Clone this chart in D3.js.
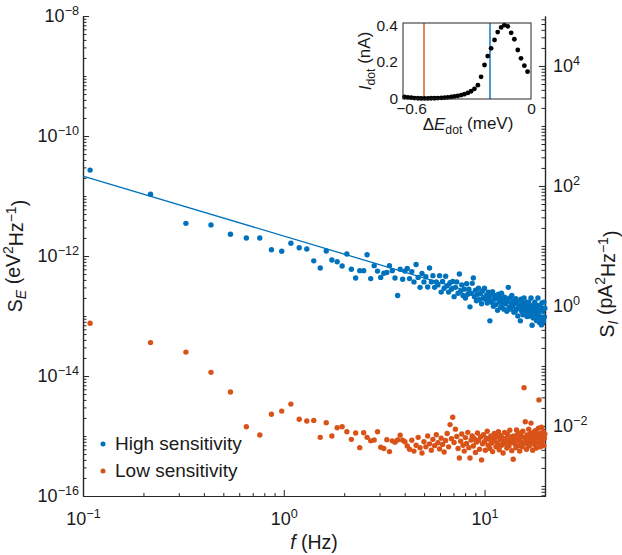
<!DOCTYPE html>
<html><head><meta charset="utf-8">
<script src="https://cdn.jsdelivr.net/npm/d3@7"></script>
<style>
body{margin:0;background:#fff}
text{font-family:"Liberation Sans",Arial,Helvetica,sans-serif;fill:#1a1a1a}
</style></head>
<body><svg id="c" width="622" height="555"></svg>
<script>
// ---- data ----
const freqHz = [0.1085,0.217,0.3255,0.434,0.5425,0.651,0.7595,0.868,0.9765,1.085,
1.1935,1.302,1.4105,1.519,1.6275,1.736,1.8445,1.953,2.0615,2.17,
2.28,2.39,2.50,2.60,2.71,2.82,2.93,3.04,3.15,3.26,3.36,3.47,3.58,3.69,3.80,3.91,4.01,4.12,4.23,4.34,
4.45,4.56,4.67,4.77,4.88,4.99,5.10,5.21,5.32,5.43,5.53,5.64,5.75,5.86,5.97,6.08,6.18,6.29,6.40,6.51,
6.62,6.73,6.84,6.94,7.05,7.16,7.27,7.38,7.49,7.60,7.70,7.81,7.92,8.03,8.14,8.25,8.35,8.46,8.57,8.68,
8.79,8.90,9.01,9.11,9.22,9.33,9.44,9.55,9.66,9.77,9.87,9.98,10.09,10.20,10.31,10.42,10.52,10.63,10.74,10.85,
10.96,11.07,11.18,11.28,11.39,11.50,11.61,11.72,11.83,11.94,12.04,12.15,12.26,12.37,12.48,12.59,12.69,12.80,12.91,13.02,
13.13,13.24,13.35,13.45,13.56,13.67,13.78,13.89,14.00,14.11,14.21,14.32,14.43,14.54,14.65,14.76,14.86,14.97,15.08,15.19,
15.30,15.41,15.52,15.62,15.73,15.84,15.95,16.06,16.17,16.28,16.38,16.49,16.60,16.71,16.82,16.93,17.03,17.14,17.25,17.36,
17.47,17.58,17.69,17.79,17.90,18.01,18.12,18.23,18.34,18.45,18.55,18.66,18.77,18.88,18.99,19.10,19.20,19.31,19.42,19.53,
19.64,19.75,19.86,19.96];

const highSE = [2.7e-11,1.07e-11,3.5e-12,3.3e-12,2.3e-12,2.0e-12,2.0e-12,1.27e-12,1.2e-12,1.63e-12,
1.37e-12,1.31e-12,8.3e-13,6.3e-13,1.21e-12,8.6e-13,8.0e-13,6.8e-13,1.08e-12,6.0e-13,
4.3e-13,5.7e-13,5.7e-13,1.05e-12,4.2e-13,6.9e-13,5.6e-13,4.4e-13,5.15e-13,5.3e-13,
6.9e-13,5.7e-13,4.3e-13,2.2e-13,6.0e-13,4.1e-13,5.6e-13,6.2e-13,4.2e-13,5.5e-13,
3.7e-13,7.2e-13,4.4e-13,3.0e-13,5.1e-13,3.7e-13,4.5e-13,3.05e-13,6.3e-13,3.7e-13,
4.7e-13,3.0e-13,3.7e-13,3.3e-13,4.7e-13,2.5e-13,3.75e-13,2.9e-13,4.6e-13,3.2e-13,
2.5e-13,3.6e-13,2.8e-13,3.75e-13,2.1e-13,3.0e-13,3.7e-13,2.4e-13,5.0e-13,2.6e-13,
3.3e-13,2.2e-13,2.8e-13,2.0e-13,3.45e-13,2.3e-13,2.8e-13,1.42e-13,2.4e-13,3.5e-13,
4.3e-13,2.1e-13,2.7e-13,1.8e-13,2.3e-13,2.9e-13,1.9e-13,2.4e-13,1.6e-13,2.6e-13,
2.0e-13,2.9e-13,1.9e-13,2.2e-13,1.65e-13,2.5e-13,1.95e-13,8.3e-14,2.25e-13,1.7e-13,
2.55e-13,1.45e-13,1.9e-13,2.2e-13,1.55e-13,2.0e-13,1.25e-13,2.3e-13,1.7e-13,2.0e-13,
1.4e-13,2.4e-13,1.55e-13,1.8e-13,1.3e-13,2.05e-13,1.6e-13,1.9e-13,1.2e-13,1.8e-13,
3.0e-13,1.4e-13,2.0e-13,1.3e-13,1.6e-13,2.2e-13,1.45e-13,1.8e-13,1.15e-13,1.6e-13,
1.2e-13,1.95e-13,1.3e-13,1.65e-13,1.0e-13,1.75e-13,1.4e-13,1.55e-13,8.3e-14,1.9e-13,
1.2e-13,1.65e-13,1.05e-13,1.35e-13,2.0e-13,1.1e-13,1.5e-13,1.25e-13,1.7e-13,9.8e-14,
1.35e-13,1.15e-13,1.7e-13,1.0e-13,1.5e-13,1.2e-13,2.0e-13,1.1e-13,7.0e-14,1.35e-13,
9.3e-14,1.5e-13,1.2e-13,1.7e-13,1.05e-13,1.35e-13,8.4e-14,1.5e-13,1.1e-13,2.0e-13,
9.5e-14,1.2e-13,7.8e-14,1.5e-13,9.7e-14,1.3e-13,7.1e-14,1.65e-13,8.8e-14,1.25e-13,
8.1e-14,1.7e-13,9.6e-14,1.35e-13];

const lowSE = [7.55e-14,3.6e-14,2.5e-14,1.15e-14,5.4e-15,1.43e-15,1.04e-15,2.3e-15,2.6e-15,3.4e-15,
1.9e-15,1.78e-15,1.82e-15,9.5e-16,1.67e-15,1.0e-15,1.37e-15,1.43e-15,1.18e-15,8.8e-16,
1.12e-15,6.4e-16,1.13e-15,9.5e-16,8.3e-16,8.6e-16,1.18e-15,6.5e-16,6.2e-16,8.7e-16,
5.5e-16,8.3e-16,7.9e-16,8.6e-16,1.03e-15,8.5e-16,8.0e-16,6.8e-16,6.0e-16,8.5e-16,
5.6e-16,7.0e-16,9.5e-16,6.4e-16,5.2e-16,8.0e-16,6.6e-16,1.0e-15,7.4e-16,5.8e-16,
8.8e-16,6.9e-16,1.05e-15,7.7e-16,6.1e-16,9.2e-16,7.2e-16,5.4e-16,8.4e-16,1.1e-15,
6.6e-16,1.55e-15,9.0e-16,2.05e-15,7.8e-16,1.3e-15,9.8e-16,6.2e-16,4.3e-16,8.2e-16,
1.08e-15,7.0e-16,5.6e-16,9.4e-16,7.5e-16,1.15e-15,6.4e-16,4.3e-16,8.6e-16,1.0e-15,
6.8e-16,9.0e-16,5.3e-16,7.9e-16,1.12e-15,8.4e-16,6.0e-16,9.6e-16,4.0e-16,7.4e-16,
1.05e-15,8.0e-16,5.8e-16,9.2e-16,1.2e-15,7.0e-16,8.8e-16,6.2e-16,1.0e-15,7.6e-16,
5.5e-16,9.0e-16,1.1e-15,8.2e-16,6.6e-16,9.8e-16,7.2e-16,1.18e-15,5.9e-16,8.6e-16,
1.02e-15,7.0e-16,9.4e-16,5.2e-16,8.0e-16,1.15e-15,7.4e-16,9.0e-16,6.3e-16,1.06e-15,
8.3e-16,6.8e-16,1.25e-15,7.8e-16,9.6e-16,5.7e-16,8.8e-16,4.1e-16,1.0e-15,7.5e-16,
9.2e-16,6.4e-16,1.26e-15,8.5e-16,1.08e-15,6.9e-16,9.0e-16,5.6e-16,1.12e-15,8.0e-16,
9.8e-16,6.6e-16,1.2e-15,7.6e-16,6.4e-15,9.4e-16,1.73e-15,8.2e-16,6.0e-16,1.04e-15,
7.3e-16,9.0e-16,1.3e-15,6.8e-16,8.6e-16,1.1e-15,1.64e-15,7.9e-16,9.6e-16,5.8e-16,
1.15e-15,8.4e-16,1.0e-15,7.1e-16,1.22e-15,8.8e-16,6.3e-16,1.05e-15,7.7e-16,9.3e-16,
1.35e-15,4.0e-15,8.1e-16,1.1e-15,6.6e-16,9.7e-16,1.4e-15,7.4e-16,1.02e-15,8.6e-16,
1.18e-15,6.9e-16,9.2e-16,1.08e-15];

const fitF = [0.1, 20];
const fitSE = [2.15e-11, 1.075e-13];

const insetE = [-0.6325,-0.6155,-0.5984,-0.5824,-0.5653,-0.5493,-0.5323,-0.5152,-0.4992,-0.4821,
-0.4661,-0.4491,-0.4320,-0.4160,-0.3989,-0.3829,-0.3659,-0.3488,-0.3328,-0.3157,
-0.2997,-0.2827,-0.2656,-0.2496,-0.2325,-0.2165,-0.1995,-0.1824,-0.1664,-0.1493,
-0.1333,-0.1163,-0.0992,-0.0832,-0.0661,-0.0501,-0.0331,-0.0171];
const insetI = [0.011,0.009,0.007,0.005,0.004,0.003,0.003,0.003,0.004,0.004,
0.005,0.006,0.007,0.009,0.011,0.014,0.017,0.021,0.026,0.033,
0.042,0.055,0.075,0.12,0.184,0.232,0.274,0.319,0.362,0.387,
0.40,0.393,0.358,0.323,0.265,0.22,0.18,0.148];
const markerE = [-0.535, -0.205];

const xTickVals = [0.1, 1, 10];
const yLeftTickVals = [1e-16, 1e-14, 1e-12, 1e-10, 1e-8];
const yRightTickVals = [1e-2, 1, 1e2, 1e4];
const insetYTicks = [0, 0.2, 0.4];
const insetXTicks = [-0.6, 0];
const legendLabels = ["High sensitivity", "Low sensitivity"];

const BLUE = "#0072BD", ORANGE = "#D95319", AX = "#262626";

// ---- scales ----
const svg = d3.select("#c");
const x = d3.scaleLog().domain([0.1, 20]).range([83, 545]);
const yL = d3.scaleLog().domain([1e-16, 1e-8]).range([496, 16]);
const yR = d3.scaleLog().domain([Math.pow(10, -3.167), Math.pow(10, 4.833)]).range([496, 16]);

function sup(sel) {
  sel.each(function(d) {
    const t = d3.select(this);
    const e = Math.round(Math.log10(d));
    t.text(null);
    t.append("tspan").text("10");
    t.append("tspan").attr("dy", "-0.55em").attr("font-size", "0.7em").text(e < 0 ? "\u2212" + (-e) : String(e));
  });
}
function styleAxis(g) {
  g.selectAll("path").attr("stroke", AX).attr("stroke-width", 1.2);
  g.selectAll("line").attr("stroke", AX).attr("stroke-width", 1);
  g.selectAll("text").attr("fill", "#1a1a1a");
}
const minorOf = (s, majors) => s.ticks().filter(t => !majors.some(m => Math.abs(Math.log10(m) - Math.log10(t)) < 1e-6));

// minor ticks
svg.append("g").attr("transform", "translate(0,496)")
  .call(d3.axisBottom(x).tickValues(minorOf(x, xTickVals)).tickSizeInner(-3).tickSizeOuter(0).tickFormat(""))
  .call(styleAxis);
svg.append("g").attr("transform", "translate(83,0)")
  .call(d3.axisLeft(yL).tickValues(minorOf(yL, yLeftTickVals)).tickSizeInner(-3.5).tickSizeOuter(0).tickFormat(""))
  .call(styleAxis);
svg.append("g").attr("transform", "translate(545,0)")
  .call(d3.axisRight(yR).tickValues(minorOf(yR, yRightTickVals)).tickSizeInner(-3.5).tickSizeOuter(0).tickFormat(""))
  .call(styleAxis);

// major ticks
const gx = svg.append("g").attr("transform", "translate(0,496)")
  .call(d3.axisBottom(x).tickValues(xTickVals).tickSizeInner(-6).tickSizeOuter(0).tickPadding(16))
  .call(styleAxis);
gx.selectAll("text").attr("font-size", 18).call(sup);
const gyl = svg.append("g").attr("transform", "translate(83,0)")
  .call(d3.axisLeft(yL).tickValues(yLeftTickVals).tickSizeInner(-6).tickSizeOuter(0).tickPadding(4))
  .call(styleAxis);
gyl.selectAll("text").attr("font-size", 18).call(sup);
const gyr = svg.append("g").attr("transform", "translate(545,0)")
  .call(d3.axisRight(yR).tickValues(yRightTickVals).tickSizeInner(-6).tickSizeOuter(0).tickPadding(8))
  .call(styleAxis);
gyr.selectAll("text").attr("font-size", 18).call(sup);
svg.selectAll(".domain").attr("stroke", AX);

// fit line
svg.append("path").datum(fitF.map((f, i) => [f, fitSE[i]]))
  .attr("d", d3.line().x(d => x(d[0])).y(d => yL(d[1])))
  .attr("fill", "none").attr("stroke", BLUE).attr("stroke-width", 1.3);

// scatter
const pts = (arr) => freqHz.map((f, i) => [f, arr[i]]);
svg.append("g").selectAll("circle").data(pts(highSE)).join("circle")
  .attr("cx", d => x(d[0])).attr("cy", d => yL(d[1])).attr("r", 2.7).attr("fill", BLUE);
svg.append("g").selectAll("circle").data(pts(lowSE)).join("circle")
  .attr("cx", d => x(d[0])).attr("cy", d => yL(d[1])).attr("r", 2.7).attr("fill", ORANGE);

// axis labels
const lab = svg.append("g").attr("font-size", 19.5);
const tl = lab.append("text").attr("transform", "translate(22,256) rotate(-90)").attr("text-anchor", "middle");
tl.append("tspan").text("S");
tl.append("tspan").attr("font-style", "italic").attr("font-size", "0.72em").attr("dy", "0.3em").text("E");
tl.append("tspan").attr("dy", "-0.3em").text(" (eV");
tl.append("tspan").attr("font-size", "0.72em").attr("dy", "-0.55em").text("2");
tl.append("tspan").attr("dy", "0.55em").text("Hz");
tl.append("tspan").attr("font-size", "0.72em").attr("dy", "-0.55em").text("\u22121");
tl.append("tspan").attr("dy", "0.55em").text(")");

const tr = lab.append("text").attr("transform", "translate(614,284) rotate(-90)").attr("text-anchor", "middle");
tr.append("tspan").text("S");
tr.append("tspan").attr("font-style", "italic").attr("font-size", "0.72em").attr("dy", "0.3em").text("I");
tr.append("tspan").attr("dy", "-0.3em").text(" (pA");
tr.append("tspan").attr("font-size", "0.72em").attr("dy", "-0.55em").text("2");
tr.append("tspan").attr("dy", "0.55em").text("Hz");
tr.append("tspan").attr("font-size", "0.72em").attr("dy", "-0.55em").text("\u22121");
tr.append("tspan").attr("dy", "0.55em").text(")");

const tb = lab.append("text").attr("x", 314).attr("y", 549).attr("text-anchor", "middle");
tb.append("tspan").attr("font-style", "italic").text("f");
tb.append("tspan").text(" (Hz)");

// legend
const lg = svg.append("g").attr("font-size", 19);
[BLUE, ORANGE].forEach((c, i) => {
  lg.append("circle").attr("cx", 103).attr("cy", 444 + i * 27).attr("r", 2.5).attr("fill", c);
  lg.append("text").attr("x", 115).attr("y", 450 + i * 27).text(legendLabels[i]);
});

// ---- inset ----
const ix = d3.scaleLinear().domain([-0.64, 0]).range([403, 531]);
const iy = d3.scaleLinear().domain([0, 0.411]).range([99, 23]);
const ins = svg.append("g");
ins.append("rect").attr("x", 403).attr("y", 23).attr("width", 128).attr("height", 76).attr("fill", "#fff");
ins.selectAll("line.mk").data(markerE).join("line").attr("class", "mk")
  .attr("x1", d => ix(d)).attr("x2", d => ix(d)).attr("y1", 23).attr("y2", 99)
  .attr("stroke", (d, i) => i === 0 ? ORANGE : BLUE).attr("stroke-width", 1.4);
ins.append("g").selectAll("circle").data(insetE.map((e, i) => [e, insetI[i]])).join("circle")
  .attr("cx", d => ix(d[0])).attr("cy", d => iy(d[1])).attr("r", 2.4).attr("fill", "#000");
ins.append("rect").attr("x", 403).attr("y", 23).attr("width", 128).attr("height", 76)
  .attr("fill", "none").attr("stroke", AX).attr("stroke-width", 1);
const iax = ins.append("g").attr("transform", "translate(0,99)")
  .call(d3.axisBottom(ix).tickValues(insetXTicks).tickSize(0).tickPadding(4)
    .tickFormat(d => d === 0 ? "0" : "\u2212" + Math.abs(d).toFixed(1)));
iax.select(".domain").remove();
iax.selectAll("text").attr("font-size", 15.5).attr("fill", "#1a1a1a");
const iay = ins.append("g").attr("transform", "translate(403,0)")
  .call(d3.axisLeft(iy).tickValues(insetYTicks).tickSize(0).tickPadding(5)
    .tickFormat(d => d === 0 ? "0" : d.toFixed(1)));
iay.select(".domain").remove();
iay.selectAll("text").attr("font-size", 15.5).attr("fill", "#1a1a1a");

const il = ins.append("g").attr("font-size", 17);
const ilx = il.append("text").attr("x", 468).attr("y", 130).attr("text-anchor", "middle");
ilx.append("tspan").text("\u0394");
ilx.append("tspan").attr("font-style", "italic").text("E");
ilx.append("tspan").attr("font-size", "0.72em").attr("dy", "0.3em").text("dot");
ilx.append("tspan").attr("dy", "-0.3em").text(" (meV)");
const ily = il.append("text").attr("transform", "translate(371,61) rotate(-90)").attr("text-anchor", "middle");
ily.append("tspan").attr("font-style", "italic").text("I");
ily.append("tspan").attr("font-size", "0.72em").attr("dy", "0.3em").text("dot");
ily.append("tspan").attr("dy", "-0.3em").text(" (nA)");
</script></body></html>
